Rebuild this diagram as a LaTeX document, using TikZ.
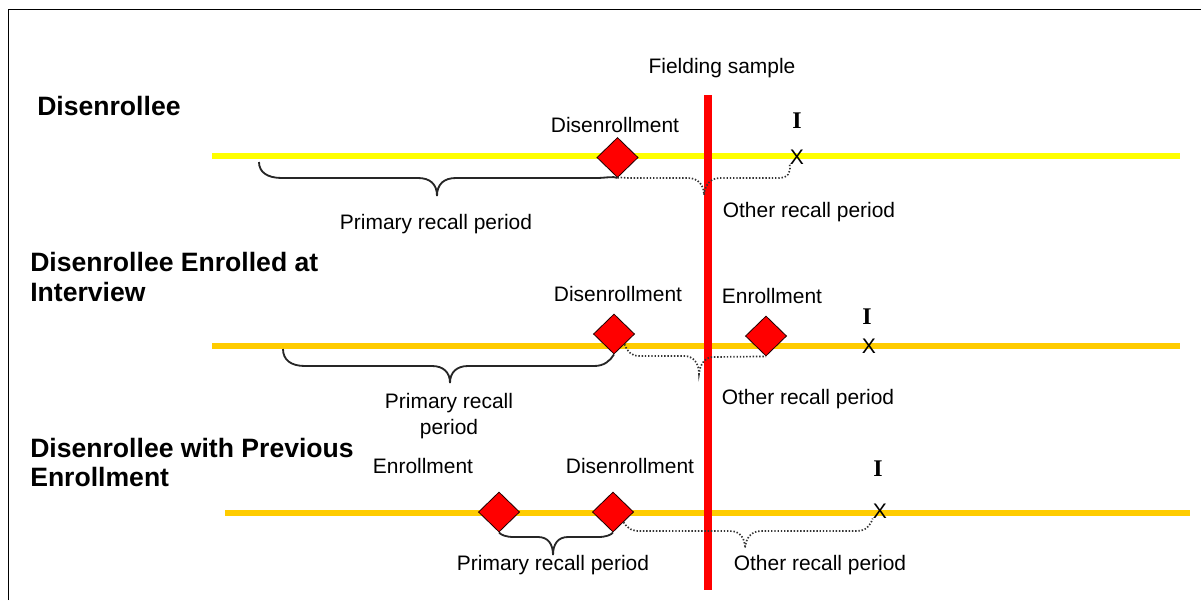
\documentclass[tikz,border=0pt]{standalone}
\usepackage{fontspec}
\setmainfont{Liberation Sans}
\newfontfamily\serifface{Liberation Serif}
\usetikzlibrary{shapes.geometric}
\definecolor{lineA}{HTML}{FFFF00}
\definecolor{lineB}{HTML}{FFCC00}
\definecolor{fieldred}{HTML}{FF0000}
\begin{document}
\begin{tikzpicture}[x=0.025cm,y=-0.025cm,
  lbl/.style={font=\fontsize{14.9}{18.5}\selectfont, inner sep=0, align=center},
  ttl/.style={font=\fontsize{18.9}{21.3}\selectfont\bfseries, inner sep=0, anchor=west, align=left},
  ev/.style={diamond, draw=black!85!red, fill=fieldred, minimum width=1.03cm, minimum height=1cm, inner sep=0, line width=0.6pt},
  imark/.style={font=\fontsize{17}{16}\selectfont\serifface\bfseries, inner sep=0},
  xmark/.style={font=\fontsize{15}{14}\selectfont, inner sep=0},
  tlA/.style={line width=4.2pt, lineA},
  tlB/.style={line width=4.2pt, lineB},
  brc/.style={line width=1.3pt, black!85},
  dbrc/.style={dash pattern=on 1pt off 1.3pt, line width=1.2pt, black!80},
]
\useasboundingbox (0,0) rectangle (1201,600);
% frame
\coordinate (fbl) at (8.5,600);
\coordinate (ftl) at (8.5,9.5);
\coordinate (ftr) at (1201,9.5);
\draw[line width=1.4pt] (fbl) -- (ftl) -- (ftr);

% titles
\node[ttl] (t1) at (37,106) {Disenrollee};
\node[ttl] (t2) at (30,277) {Disenrollee Enrolled at\\Interview};
\node[ttl] (t3) at (30,462.5) {Disenrollee with Previous\\Enrollment};

% time lines
\coordinate (l1a) at (212,156); \coordinate (l1b) at (1180,156);
\coordinate (l2a) at (212,346); \coordinate (l2b) at (1180,346);
\coordinate (l3a) at (225,513); \coordinate (l3b) at (1190,513);
\draw[tlA] (l1a) -- (l1b);
\draw[tlB] (l2a) -- (l2b);
\draw[tlB] (l3a) -- (l3b);

% fielding sample
\node[lbl] (fs) at (722,68) {Fielding sample};
\coordinate (r1) at (708,95); \coordinate (r2) at (708,590);
\draw[fieldred, line width=5.6pt] (r1) -- (r2);

% row 1
\node[ev] (d1) at (617.5,157.5) {};
\node[lbl] (d1l) at (615,125) {Disenrollment};
\node[imark] (i1) at (797,121) {I};
\node[xmark] (x1) at (797,157) {X};
\coordinate (b1s) at (259,162);
\draw[brc] (b1s) .. controls (259,172) and (267,178) .. (282,178) -- (418,178)
  .. controls (430,178) and (437,184) .. (437,196)
  .. controls (437,184) and (444,178) .. (456,178)
  -- (596,178) .. controls (606,178) and (613,176) .. (d1.south);
\draw[dbrc] (d1.south) .. controls (620,177) and (624,178) .. (632,178) -- (688,178)
  .. controls (698,178) and (704,185) .. (704,195)
  .. controls (705,185) and (710,178) .. (720,178)
  -- (778,178) .. controls (788,178) and (791,173) .. (x1.south west);
\node[lbl] (p1) at (436,224) {Primary recall period};
\node[lbl] (o1) at (809,212) {Other recall period};

% row 2
\node[ev] (d2a) at (614,334) {};
\node[ev] (d2b) at (766,336) {};
\node[lbl] (d2l) at (618,294) {Disenrollment};
\node[lbl] (e2l) at (772,296) {Enrollment};
\node[imark] (i2) at (867,317) {I};
\node[xmark] (x2) at (869,346) {X};
\coordinate (b2s) at (283,349);
\draw[brc] (b2s) .. controls (283,360) and (291,366) .. (305,366) -- (432,366)
  .. controls (443,366) and (450,372) .. (450,383)
  .. controls (450,372) and (457,366) .. (468,366)
  -- (594,366) .. controls (604,366) and (610,361) .. (d2a.south);
\draw[dbrc] (d2a.south east) .. controls (628,353) and (632,356) .. (640,356) -- (684,356)
  .. controls (694,356) and (699,364) .. (699,374)
  .. controls (700,364) and (705,357) .. (714,357)
  -- (d2b.south);
\node[lbl] (p2) at (449,416) {Primary recall\\period};
\node[lbl] (o2) at (808,399) {Other recall period};

% row 3
\node[ev] (d3a) at (499,512) {};
\node[ev] (d3b) at (613,512) {};
\node[lbl] (e3l) at (423,466) {Enrollment};
\node[lbl] (d3l) at (630,466) {Disenrollment};
\node[imark] (i3) at (878,469) {I};
\node[xmark] (x3) at (880,511) {X};
\draw[brc] (d3a.south) .. controls (501,535) and (506,537) .. (514,537) -- (538,537)
  .. controls (548,537) and (553,544) .. (553,555)
  .. controls (553,544) and (558,537) .. (568,537)
  -- (598,537) .. controls (606,537) and (611,535) .. (d3b.south);
\draw[dbrc] (d3b.south east) .. controls (628,529) and (632,531) .. (640,531) -- (730,531)
  .. controls (740,531) and (745,538) .. (745,548)
  .. controls (746,538) and (751,531) .. (761,531)
  -- (856,531) .. controls (866,531) and (870,526) .. (x3.south west);
\node[lbl] (p3) at (553,565) {Primary recall period};
\node[lbl] (o3) at (820,565) {Other recall period};
\end{tikzpicture}
\end{document}
